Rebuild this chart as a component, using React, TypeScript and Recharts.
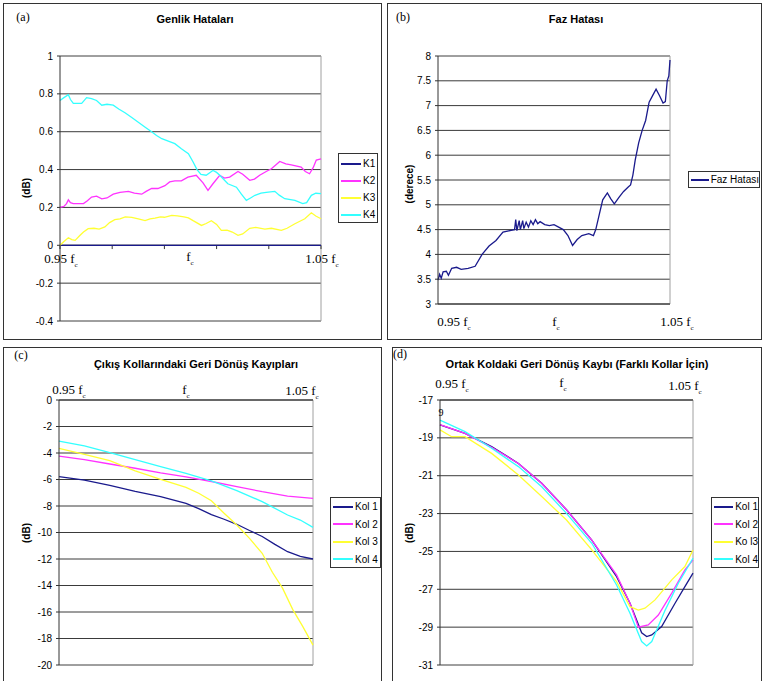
import React from "react";
import { LineChart, Line, XAxis, YAxis, CartesianGrid, ReferenceLine, Legend } from "recharts";

type Pt = [number, number];

const X_TICKS = [0, 20, 40, 60, 80, 100];

// ---------- Panel (a) Genlik Hataları ----------
const A_TICKS = [-0.4, -0.2, 0, 0.2, 0.4, 0.6, 0.8, 1];
const A_NAMES = ["K1", "K2", "K3", "K4"];
const A_K1: Pt[] = [[0, 0], [100, 0]];
const A_K2: Pt[] = [[0,0.2],[1.5,0.205],[2.5,0.22],[3.2,0.24],[4,0.225],[5.1,0.22],[9,0.22],[10.5,0.235],[12.1,0.255],[14,0.26],[16,0.245],[18,0.25],[20.4,0.27],[23,0.28],[26.2,0.285],[28.5,0.275],[31.3,0.27],[33,0.285],[35.1,0.3],[37.5,0.3],[40.2,0.315],[42,0.335],[44,0.34],[46.5,0.34],[49,0.36],[52.2,0.37],[54.8,0.33],[56.7,0.29],[58.6,0.325],[61.2,0.37],[63,0.355],[65,0.36],[68.2,0.39],[70,0.375],[72.7,0.343],[74.5,0.35],[76.5,0.37],[79,0.39],[81,0.404],[84.2,0.443],[86.5,0.43],[88.6,0.425],[92.4,0.413],[94,0.39],[95.6,0.378],[97,0.41],[98.2,0.45],[100,0.457]];
const A_K3: Pt[] = [[0,0],[1.5,0.02],[3.2,0.04],[4.5,0.03],[5.8,0.026],[7.5,0.05],[9,0.07],[10.8,0.088],[13,0.09],[15,0.085],[17.2,0.097],[19,0.12],[21,0.135],[23,0.14],[25,0.15],[27.5,0.148],[30,0.14],[32.6,0.13],[34.5,0.14],[36.4,0.143],[38.5,0.15],[40,0.148],[42.8,0.158],[45,0.155],[47.5,0.15],[49.2,0.145],[51,0.13],[54.2,0.105],[56,0.115],[58,0.13],[60,0.11],[61.8,0.079],[64,0.08],[66,0.07],[68.2,0.053],[70,0.06],[72.7,0.09],[75,0.095],[78.5,0.085],[81,0.09],[84.8,0.079],[87,0.09],[90,0.114],[93.8,0.14],[96.3,0.172],[98,0.155],[100,0.14]];
const A_K4: Pt[] = [[0,0.765],[1.5,0.78],[3.2,0.795],[4,0.77],[5.1,0.75],[8.3,0.75],[10.2,0.78],[12.1,0.775],[14,0.765],[16,0.74],[18,0.745],[20.4,0.74],[22.5,0.72],[24.9,0.7],[27.5,0.675],[30,0.65],[32.5,0.625],[35.1,0.6],[37,0.58],[39,0.563],[41.5,0.55],[44,0.537],[46.5,0.51],[49.2,0.484],[51,0.44],[52.5,0.4],[54,0.375],[56,0.37],[58.6,0.395],[60,0.385],[61.2,0.37],[64.3,0.325],[67.6,0.307],[69.5,0.27],[71.4,0.237],[73,0.25],[74.7,0.264],[77,0.275],[79,0.28],[82.3,0.285],[84,0.265],[86.1,0.246],[90,0.237],[93,0.22],[94.5,0.225],[96.3,0.264],[98,0.275],[100,0.273]];

// ---------- Panel (b) Faz Hatası ----------
const B_TICKS = [3, 3.5, 4, 4.5, 5, 5.5, 6, 6.5, 7, 7.5, 8];
const B_NAMES = ["Faz Hatası"];
const B_FAZ: Pt[] = [[0,3.48],[0.7,3.6],[1.4,3.52],[2.2,3.65],[3.6,3.66],[4.5,3.58],[5.9,3.72],[8,3.74],[10,3.7],[13,3.72],[16,3.76],[19,4.0],[22,4.17],[25,4.28],[28,4.45],[31,4.48],[33,4.5],[33.5,4.7],[34,4.48],[35,4.68],[35.5,4.5],[36.5,4.68],[37,4.52],[38,4.65],[39,4.55],[40,4.68],[41,4.6],[42,4.7],[43,4.62],[44,4.66],[46,4.6],[48,4.58],[50,4.6],[52,4.55],[54,4.5],[56,4.38],[58,4.18],[60,4.3],[62,4.38],[65,4.42],[67,4.38],[68,4.5],[69.5,4.8],[71,5.1],[73,5.24],[74.5,5.12],[76,5.02],[78,5.15],[80,5.27],[82,5.36],[83,5.4],[84,5.6],[85,5.9],[86.5,6.25],[88,6.5],[89.5,6.7],[91,7.07],[92.5,7.2],[94,7.33],[95.5,7.2],[97,7.05],[98,7.08],[98.8,7.5],[99.5,7.6],[100,7.92]];

// ---------- Panel (c) Çıkış Kollarındaki Geri Dönüş Kayıpları ----------
const C_TICKS = [-20, -18, -16, -14, -12, -10, -8, -6, -4, -2, 0];
const C_NAMES = ["Kol 1", "Kol 2", "Kol 3", "Kol 4"];
const C_KOL1: Pt[] = [[0,-5.79],[10,-6.04],[20,-6.45],[30,-6.9],[40,-7.3],[50,-7.8],[55,-8.2],[60,-8.65],[65,-9.0],[70,-9.38],[75,-9.85],[80,-10.3],[85,-10.9],[90,-11.45],[95,-11.8],[100,-12.0]];
const C_KOL2: Pt[] = [[0,-4.23],[10,-4.5],[20,-4.83],[30,-5.15],[40,-5.5],[50,-5.8],[60,-6.15],[70,-6.54],[80,-6.92],[90,-7.25],[100,-7.42]];
const C_KOL3: Pt[] = [[0,-3.65],[10,-4.1],[20,-4.58],[30,-5.35],[40,-5.99],[50,-6.6],[55,-7.04],[60,-7.6],[65,-8.55],[70,-9.43],[75,-10.44],[80,-11.57],[84,-13.0],[88,-14.2],[92,-15.8],[96,-17.1],[100,-18.5]];
const C_KOL4: Pt[] = [[0,-3.1],[10,-3.47],[20,-3.97],[30,-4.5],[40,-5.03],[50,-5.53],[60,-6.11],[70,-6.84],[80,-7.67],[90,-8.68],[95,-9.06],[100,-9.61]];

// ---------- Panel (d) Ortak Koldaki Geri Dönüş Kaybı ----------
const D_TICKS = [-31, -29, -27, -25, -23, -21, -19, -17];
const D_NAMES = ["Kol 1", "Kol 2", "Ko l3", "Kol 4"];
const D_KOL1: Pt[] = [[0,-18.32],[9.9,-18.76],[20.4,-19.46],[31,-20.35],[40.2,-21.4],[50,-22.8],[60,-24.4],[69.8,-26.33],[75.1,-27.74],[79.7,-29.3],[81.7,-29.5],[83.7,-29.41],[87.6,-28.97],[92.9,-27.74],[96.8,-26.86],[100,-26.15]];
const D_KOL2: Pt[] = [[0,-18.3],[9.9,-18.76],[20.4,-19.5],[31,-20.35],[40.2,-21.4],[50,-22.8],[60,-24.4],[69.8,-26.24],[75.1,-27.74],[78.4,-29.0],[82.3,-28.88],[86.3,-28.36],[91.6,-27.2],[96.8,-25.98],[100,-25.45]];
const D_KOL3: Pt[] = [[0,-18.58],[4.6,-18.94],[9.9,-18.94],[20.4,-19.82],[31,-20.96],[40.2,-22.1],[50,-23.34],[60,-24.92],[69.8,-26.6],[75.1,-27.92],[78.4,-28.1],[81,-28.0],[85,-27.56],[91.6,-26.5],[96.8,-25.8],[100,-24.92]];
const D_KOL4: Pt[] = [[0,-18.06],[9.9,-18.67],[20.4,-19.55],[31,-20.52],[40.2,-21.58],[50,-22.99],[60,-24.57],[69.8,-26.77],[75.1,-28.27],[79.7,-29.76],[81.7,-29.99],[83.7,-29.76],[89,-28.1],[94.2,-26.68],[100,-25.36]];

const NAVY = "#1a1a8c";
const MAGENTA = "#ff33ff";
const YELLOW = "#ffff33";
const CYAN = "#33ffff";
const COLORS4 = [NAVY, MAGENTA, YELLOW, CYAN];
const GRID = "#3a3a3a";
const BORDER_GRAY = "#a0a0a0";
const SANS = "Arial, 'Liberation Sans', sans-serif";
const SERIF = "'Times New Roman', 'Liberation Serif', serif";

const rows = (pts: Pt[]) => pts.map(([x, y]) => ({ x, y }));

const legendRenderer = (order: string[], itemH: number, padTop: number) => (props: any) => {
  const payload = [...(props.payload || [])].sort(
    (a: any, b: any) => order.indexOf(a.value) - order.indexOf(b.value)
  );
  return (
    <div style={{ border: "1px solid #333", background: "#fff", boxSizing: "border-box", width: "100%", height: "100%", paddingTop: padTop, paddingLeft: 2 }}>
      {payload.map((p: any, i: number) => (
        <div key={i} style={{ display: "flex", alignItems: "center", height: itemH }}>
          <span style={{ display: "inline-block", width: 20, height: 0, borderTop: `2px solid ${p.color}` }} />
          <span style={{ marginLeft: 2, fontSize: 10, fontFamily: SANS, color: "#000", whiteSpace: "nowrap" }}>{p.value}</span>
        </div>
      ))}
    </div>
  );
};

const T = ({ x, y, children, style }: any) => (
  <div style={{ position: "absolute", left: x, top: y, transform: "translate(-50%,-50%)", whiteSpace: "nowrap", lineHeight: 1, ...style }}>{children}</div>
);

const Fc = ({ pre }: { pre?: string }) => (
  <span style={{ fontFamily: SERIF, fontSize: 13 }}>
    {pre}f<span style={{ fontSize: 7, position: "relative", top: 4 }}>c</span>
  </span>
);

const Box = ({ l, t, w, h }: any) => (
  <div style={{ position: "absolute", left: l, top: t, width: w, height: h, border: "1px solid #333", boxSizing: "border-box" }} />
);

const yTick = { fontSize: 10, fontFamily: SANS, fill: "#000" };

const Series = (list: Pt[][], names: string[], colors: string[]) =>
  list.map((pts, i) => (
    <Line key={names[i]} data={rows(pts)} dataKey="y" name={names[i]} stroke={colors[i]} strokeWidth={1.3} dot={false} isAnimationActive={false} />
  ));

const rotated = { fontFamily: SANS, fontSize: 10, fontWeight: "bold", transform: "translate(-50%,-50%) rotate(-90deg)" };
const titleStyle = { fontFamily: SANS, fontSize: 11, fontWeight: "bold" };
const tagStyle = { fontFamily: SERIF, fontSize: 12 };

export default function App() {
  return (
    <div style={{ position: "absolute", left: 0, top: 0, width: 763, height: 681, background: "#fff", overflow: "hidden" }}>
      <Box l={3} t={3} w={379} h={337} />
      <Box l={387} t={3} w={375} h={337} />
      <Box l={3} t={347} w={379} h={340} />
      <Box l={392} t={347} w={370} h={340} />

      {/* Panel (a) */}
      <div style={{ position: "absolute", left: 0, top: 0 }}>
        <LineChart width={383} height={340} margin={{ top: 56, right: 62, bottom: 19, left: 10 }}>
          <XAxis type="number" dataKey="x" domain={[0, 100]} ticks={X_TICKS} hide />
          <YAxis type="number" domain={[-0.4, 1]} ticks={A_TICKS} width={50} tick={yTick} tickSize={3} tickMargin={4} stroke="#333" interval={0} />
          <CartesianGrid vertical={false} stroke={GRID} />
          <ReferenceLine x={100} stroke={BORDER_GRAY} />
          <ReferenceLine y={1} stroke={BORDER_GRAY} />
          <ReferenceLine y={-0.4} stroke={BORDER_GRAY} />
          <ReferenceLine y={0} stroke="#333" />
          {X_TICKS.map((t) => (
            <ReferenceLine key={t} segment={[{ x: t, y: 0 }, { x: t, y: -0.02 }]} stroke="#333" />
          ))}
          {Series([A_K1, A_K2, A_K3, A_K4], A_NAMES, COLORS4)}
          <Legend layout="vertical" align="center" verticalAlign="middle" wrapperStyle={{ left: 338, top: 153, width: 40, height: 70 }} content={legendRenderer(A_NAMES, 17, 1)} />
        </LineChart>
      </div>

      {/* Panel (b) */}
      <div style={{ position: "absolute", left: 385, top: 0 }}>
        <LineChart width={378} height={340} margin={{ top: 56, right: 93, bottom: 0, left: 3 }}>
          <XAxis type="number" dataKey="x" domain={[0, 100]} ticks={X_TICKS} height={36} tick={false} tickSize={4} stroke="#333" />
          <YAxis type="number" domain={[3, 8]} ticks={B_TICKS} width={50} tick={yTick} tickSize={3} tickMargin={4} stroke="#333" interval={0} />
          <CartesianGrid vertical={false} stroke={GRID} />
          <ReferenceLine x={100} stroke={BORDER_GRAY} />
          <ReferenceLine y={8} stroke={BORDER_GRAY} />
          {Series([B_FAZ], B_NAMES, [NAVY])}
          <Legend layout="vertical" align="center" verticalAlign="middle" wrapperStyle={{ left: 303, top: 171, width: 72, height: 17 }} content={legendRenderer(B_NAMES, 15, 0)} />
        </LineChart>
      </div>

      {/* Panel (c) */}
      <div style={{ position: "absolute", left: 0, top: 345 }}>
        <LineChart width={383} height={336} margin={{ top: 45, right: 70, bottom: 16, left: 9 }}>
          <XAxis type="number" dataKey="x" orientation="top" domain={[0, 100]} ticks={X_TICKS} height={10} tick={false} tickSize={4} stroke="#333" />
          <YAxis type="number" domain={[-20, 0]} ticks={C_TICKS} width={50} tick={yTick} tickSize={3} tickMargin={4} stroke="#333" interval={0} />
          <CartesianGrid vertical={false} stroke={GRID} />
          <ReferenceLine x={100} stroke={BORDER_GRAY} />
          <ReferenceLine y={-20} stroke={BORDER_GRAY} />
          {Series([C_KOL1, C_KOL2, C_KOL3, C_KOL4], C_NAMES, COLORS4)}
          <Legend layout="vertical" align="center" verticalAlign="middle" wrapperStyle={{ left: 330, top: 152, width: 51, height: 71 }} content={legendRenderer(C_NAMES, 17.5, 0)} />
        </LineChart>
      </div>

      {/* Panel (d) */}
      <div style={{ position: "absolute", left: 385, top: 345 }}>
        <LineChart width={378} height={336} margin={{ top: 45, right: 70, bottom: 16, left: 5 }}>
          <XAxis type="number" dataKey="x" orientation="top" domain={[0, 100]} ticks={X_TICKS} height={10} tick={false} tickSize={4} stroke="#333" />
          <YAxis type="number" domain={[-31, -17]} ticks={D_TICKS} width={50} tick={yTick} tickSize={3} tickMargin={4} stroke="#333" interval={0} />
          <CartesianGrid vertical={false} stroke={GRID} />
          <ReferenceLine x={100} stroke={BORDER_GRAY} />
          <ReferenceLine y={-31} stroke={BORDER_GRAY} />
          {Series([D_KOL1, D_KOL2, D_KOL3, D_KOL4], D_NAMES, COLORS4)}
          <Legend layout="vertical" align="center" verticalAlign="middle" wrapperStyle={{ left: 326, top: 152, width: 48, height: 71 }} content={legendRenderer(D_NAMES, 17.5, 0)} />
        </LineChart>
      </div>

      {/* Texts panel (a) */}
      <T x={23} y={17} style={tagStyle}>(a)</T>
      <T x={195} y={19} style={titleStyle}>Genlik Hataları</T>
      <T x={27} y={188} style={rotated}>(dB)</T>
      <T x={61} y={258}><Fc pre="0.95 " /></T>
      <T x={190} y={256}><Fc /></T>
      <T x={322} y={258}><Fc pre="1.05 " /></T>

      {/* Texts panel (b) */}
      <T x={403} y={17} style={tagStyle}>(b)</T>
      <T x={576} y={19} style={titleStyle}>Faz Hatası</T>
      <T x={410} y={184} style={rotated}>(derece)</T>
      <T x={454} y={321}><Fc pre="0.95 " /></T>
      <T x={556} y={321}><Fc /></T>
      <T x={677} y={321}><Fc pre="1.05 " /></T>

      {/* Texts panel (c) */}
      <T x={21} y={355} style={tagStyle}>(c)</T>
      <T x={196} y={364} style={titleStyle}>Çıkış Kollarındaki Geri Dönüş Kayıpları</T>
      <T x={27} y={533} style={rotated}>(dB)</T>
      <T x={69} y={389}><Fc pre="0.95 " /></T>
      <T x={186} y={389}><Fc /></T>
      <T x={302} y={390}><Fc pre="1.05 " /></T>

      {/* Texts panel (d) */}
      <T x={400} y={354} style={tagStyle}>(d)</T>
      <T x={577} y={364} style={titleStyle}>Ortak Koldaki Geri Dönüş Kaybı (Farklı Kollar İçin)</T>
      <T x={410} y={533} style={rotated}>(dB)</T>
      <T x={452} y={383}><Fc pre="0.95 " /></T>
      <T x={563} y={382}><Fc /></T>
      <T x={685} y={385}><Fc pre="1.05 " /></T>
      <T x={441} y={413} style={{ fontFamily: SERIF, fontSize: 10 }}>9</T>
    </div>
  );
}
